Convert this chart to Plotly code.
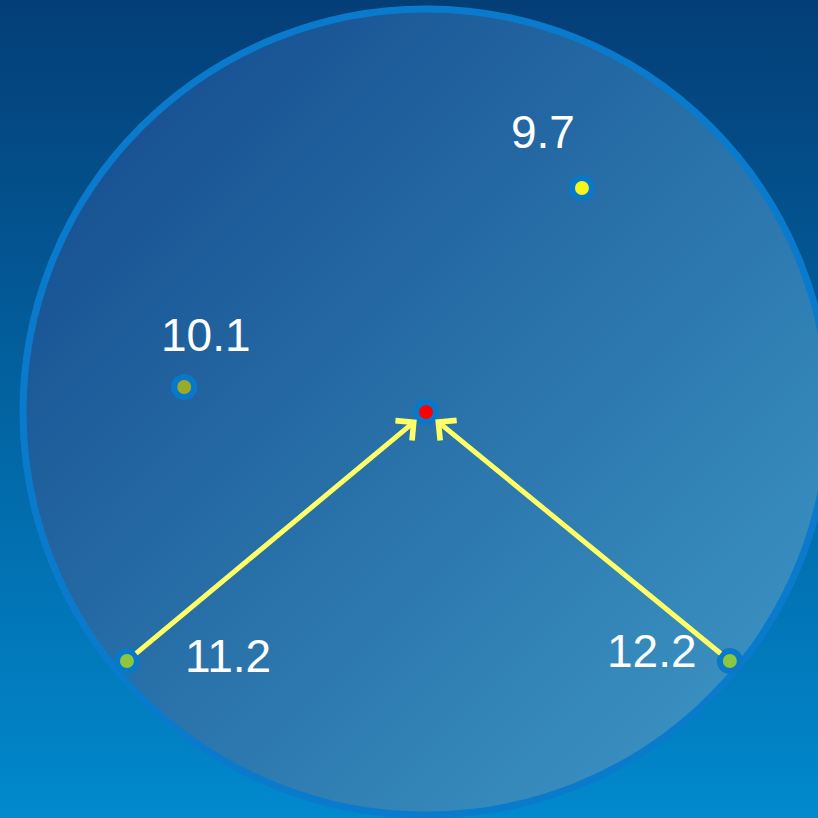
import base64
import plotly.graph_objects as go

# values shown next to the points
labels = ["9.7", "10.1", "11.2", "12.2"]
# point positions in a unit-circle frame (centre 0,0, radius 1)
pts_x = [0.387, -0.600, -0.742, 0.754]
pts_y = [0.556, 0.062, -0.618, -0.618]
pt_colors = ["#f7f51c", "#9aab2a", "#8dc63f", "#8dc63f"]
center_x = [0.0]
center_y = [0.0]
# which points have arrows pointing to the centre
arrow_from = ["11.2", "12.2"]


def svg_uri(svg):
    return "data:image/svg+xml;base64," + base64.b64encode(svg.encode()).decode()


bg_svg = (
    '<svg xmlns="http://www.w3.org/2000/svg" width="100" height="100" preserveAspectRatio="none">'
    '<defs><linearGradient id="g" x1="0" y1="0" x2="0" y2="1">'
    '<stop offset="0" stop-color="#043e77"/><stop offset="1" stop-color="#0189cd"/>'
    '</linearGradient></defs><rect width="100" height="100" fill="url(#g)"/></svg>'
)
disc_svg = (
    '<svg xmlns="http://www.w3.org/2000/svg" width="200" height="200" viewBox="0 0 200 200" preserveAspectRatio="none">'
    '<defs><linearGradient id="d" x1="0" y1="0" x2="1" y2="1">'
    '<stop offset="0" stop-color="#12468a"/><stop offset="1" stop-color="#3f9bc8"/>'
    '</linearGradient></defs><circle cx="100" cy="100" r="100" fill="url(#d)"/></svg>'
)

fig = go.Figure()

# points: blue ring + coloured dot
fig.add_trace(go.Scatter(
    x=pts_x + center_x, y=pts_y + center_y, mode="markers",
    marker=dict(size=26, color="#0a78c8"),
    hoverinfo="skip", showlegend=False
))
fig.add_trace(go.Scatter(
    x=pts_x + center_x, y=pts_y + center_y, mode="markers",
    marker=dict(size=14, color=pt_colors + ["#ff0000"]),
    hoverinfo="skip", showlegend=False
))

# label offsets (pixels)
shifts = {"9.7": (-39, 56), "10.1": (22, 52), "11.2": (101, 5), "12.2": (-78, 10)}
for lab, x, y in zip(labels, pts_x, pts_y):
    dx, dy = shifts[lab]
    fig.add_annotation(
        x=x, y=y, text=lab, showarrow=False,
        xshift=dx, yshift=dy,
        font=dict(family="Liberation Sans, Arial", size=46, color="white")
    )

# arrows to the centre
for lab, x, y in zip(labels, pts_x, pts_y):
    if lab in arrow_from:
        fig.add_annotation(
            x=center_x[0], y=center_y[0], ax=x, ay=y,
            xref="x", yref="y", axref="x", ayref="y",
            text="", showarrow=True,
            arrowhead=4, arrowsize=1.0, arrowwidth=5,
            arrowcolor="#ffff66", standoff=12, startstandoff=10
        )

fig.add_shape(
    type="circle", xref="x", yref="y", x0=-1, y0=-1, x1=1, y1=1,
    line=dict(color="#0a7bcc", width=7), layer="between"
)

fig.update_layout(
    width=818, height=818,
    margin=dict(l=0, r=0, t=0, b=0),
    paper_bgcolor="#0a64a8",
    plot_bgcolor="rgba(0,0,0,0)",
    xaxis=dict(range=[-426 / 403, 392 / 403], visible=False, fixedrange=True),
    yaxis=dict(range=[-406 / 403, 412 / 403], visible=False, fixedrange=True),
    images=[
        dict(source=svg_uri(bg_svg), xref="paper", yref="paper", x=0, y=1,
             sizex=1, sizey=1, sizing="stretch", layer="below",
             xanchor="left", yanchor="top"),
        dict(source=svg_uri(disc_svg), xref="x", yref="y", x=-1, y=1,
             sizex=2, sizey=2, sizing="stretch", layer="below",
             xanchor="left", yanchor="top"),
    ],
    showlegend=False,
)

fig.write_html(
    "out.html",
    config={"displayModeBar": False},
    post_script="document.body.style.margin='0';document.body.style.overflow='hidden';"
)
